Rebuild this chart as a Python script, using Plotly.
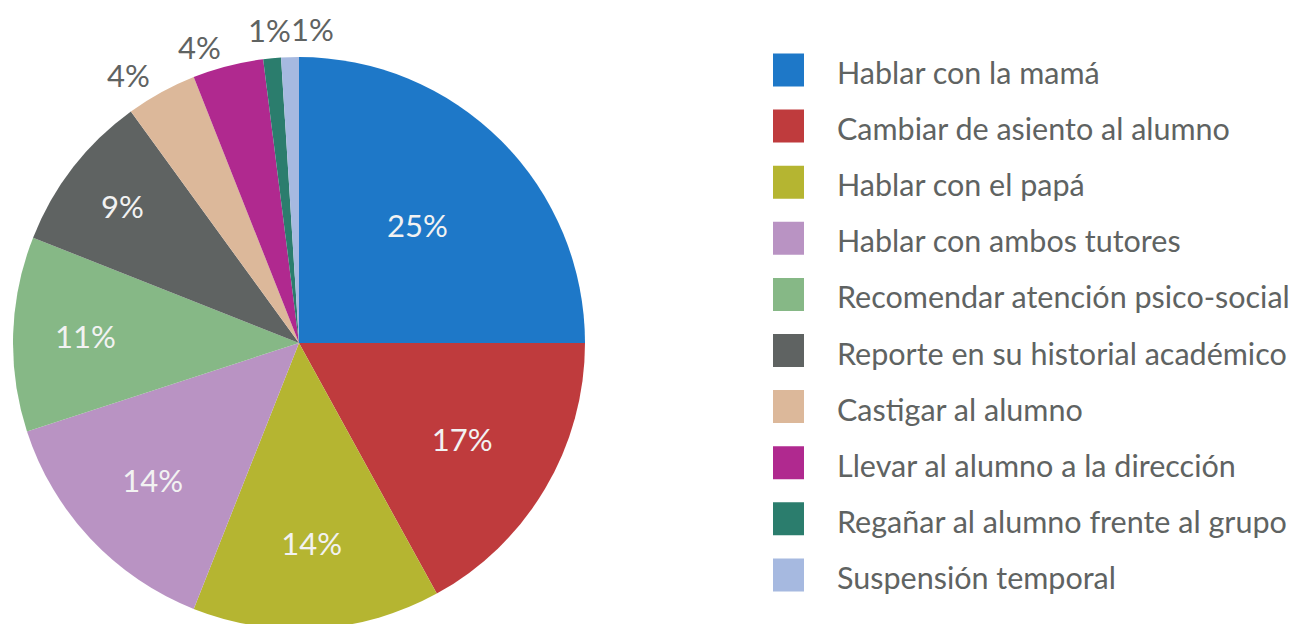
import math
import plotly.graph_objects as go

# acciones ante un conflicto en el aula (porcentaje)
labels = [
    "Hablar con la mamá",
    "Cambiar de asiento al alumno",
    "Hablar con el papá",
    "Hablar con ambos tutores",
    "Recomendar atención psico-social",
    "Reporte en su historial académico",
    "Castigar al alumno",
    "Llevar al alumno a la dirección",
    "Regañar al alumno frente al grupo",
    "Suspensión temporal",
]
values = [25, 17, 14, 14, 11, 9, 4, 4, 1, 1]
colors = ["#1e78c8", "#bf3b3d", "#b5b531", "#b993c3", "#86b886",
          "#5f6362", "#dcb89a", "#b0298f", "#2b7d6d", "#a6b9e0"]

W, H = 1308, 624
FONT = "Lato"
GRAY = "#5f6362"
OFF = 8  # the page body adds an 8px margin, positions below are window pixels minus this

# pie placement in pixels (centre and radius)
CX, CY, R = 299 - OFF, 343 - OFF, 286

# big slices: label inside, small ones: label placed outside
small = [v < 5 for v in values]
fig = go.Figure(go.Pie(
    labels=labels,
    values=values,
    marker=dict(colors=colors, line=dict(width=0)),
    sort=False,
    direction="clockwise",
    rotation=0,
    texttemplate="%{value}%",
    textposition=["none" if s else "inside" for s in small],
    insidetextorientation="horizontal",
    textfont=dict(family=FONT, size=31, color="#f2f2f2"),
    showlegend=False,
    hoverinfo="label+percent",
    domain=dict(x=[(CX - R) / W, (CX + R) / W],
                y=[(H - CY - R) / H, (H - CY + R) / H]),
))

annotations = []
shapes = []

# outside labels at the middle angle of each small slice
total = sum(values)
cum = 0
prev_x = None
for v, s in zip(values, small):
    mid = (cum + v / 2) / total * 2 * math.pi
    cum += v
    if not s:
        continue
    sx, cy = math.sin(mid), math.cos(mid)
    if abs(sx) > 0.2:
        anchor, k = ("right" if sx < 0 else "left"), 1.07
    else:
        anchor, k = "center", 1.10
    lx = CX + k * R * sx
    ly = CY - k * R * cy
    if anchor == "center" and prev_x is not None and lx < prev_x + 43:
        lx = prev_x + 43
    prev_x = lx
    annotations.append(dict(
        text=f"{v}%", xref="paper", yref="paper",
        x=lx / W, y=1 - ly / H, xanchor=anchor, yanchor="middle",
        showarrow=False, font=dict(family=FONT, size=31, color=GRAY),
    ))

# legend drawn by hand so the squares and spacing match
for i, (lab, col) in enumerate(zip(labels, colors)):
    yc = 70 - OFF + i * 56.1
    shapes.append(dict(
        type="rect", xref="paper", yref="paper",
        x0=(773 - OFF) / W, x1=(804 - OFF) / W,
        y0=1 - (yc - 16.5) / H, y1=1 - (yc + 16.5) / H,
        fillcolor=col, line=dict(width=0),
    ))
    annotations.append(dict(
        text=lab, xref="paper", yref="paper",
        x=(835 - OFF) / W, y=1 - (yc + 2) / H,
        xanchor="left", yanchor="middle", showarrow=False,
        font=dict(family=FONT, size=30.5, color=GRAY),
    ))

fig.update_layout(
    width=W, height=H,
    margin=dict(l=0, r=0, t=0, b=0),
    paper_bgcolor="white",
    plot_bgcolor="white",
    shapes=shapes,
    annotations=annotations,
)

fig.write_html("out.html")
